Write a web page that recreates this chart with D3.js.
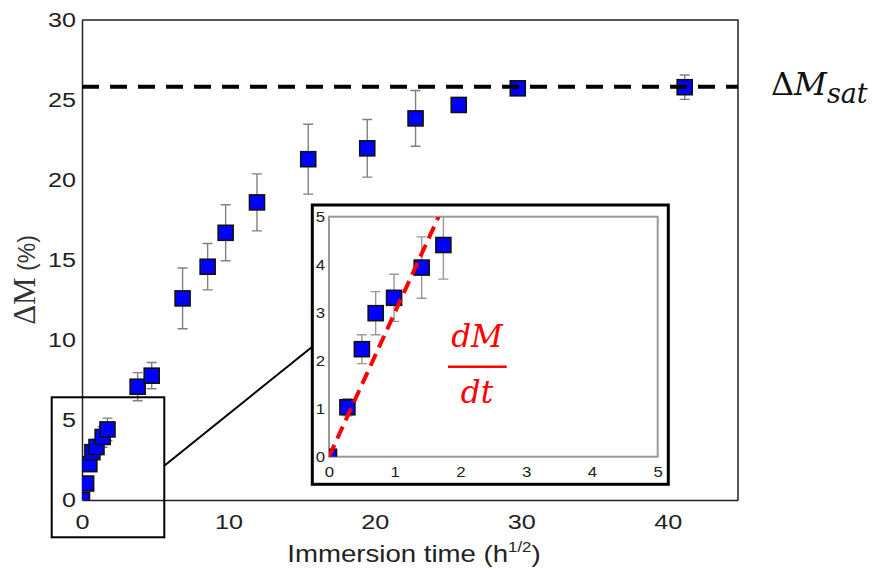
<!DOCTYPE html>
<html>
<head>
<meta charset="utf-8">
<script src="https://cdn.jsdelivr.net/npm/d3@7"></script>
<style>
  html, body { margin: 0; padding: 0; background: #fff; }
  svg { display: block; }
</style>
</head>
<body>
<svg id="chart" width="874" height="583"></svg>
<script>
// ---------------- data ----------------
const time   = [0, 0.28, 0.5, 0.71, 0.99, 1.41, 1.74, 3.8, 4.76, 6.87, 8.58, 9.81, 11.95, 15.45, 19.48, 22.78, 25.73, 29.76, 41.16];
const deltaM = [0, 1.03, 2.24, 2.99, 3.31, 3.94, 4.41, 7.08, 7.77, 12.6, 14.58, 16.7, 18.6, 21.3, 21.98, 23.85, 24.69, 25.73, 25.8];
const errM   = [0, 0.18, 0.3, 0.45, 0.49, 0.64, 0.71, 0.88, 0.82, 1.9, 1.45, 1.75, 1.78, 2.18, 1.8, 1.74, 0.3, 0.3, 0.76];
const yTicks = [0, 5, 10, 15, 20, 25, 30];
const xTicks = [0, 10, 20, 30, 40];
const insetTicks = [0, 1, 2, 3, 4, 5];
const satValue = 25.83;     // ΔM_sat
const dMdtSlope = 3.0;      // initial slope in inset
const insetCount = 7;       // points shown in the inset

const points = time.map((t, i) => ({ t, m: deltaM[i], e: errM[i] }));

// ---------------- layout ----------------
const svg = d3.select("#chart");
const M = { left: 82, right: 738, top: 20, bottom: 500 };
const x = d3.scaleLinear().domain([0, 44.8]).range([M.left, M.right]);
const y = d3.scaleLinear().domain([0, 30]).range([M.bottom, M.top]);

const I = { left: 329, right: 657.7, top: 216.7, bottom: 456.7 };
const xi = d3.scaleLinear().domain([0, 5]).range([I.left, I.right]);
const yi = d3.scaleLinear().domain([0, 5]).range([I.bottom, I.top]);

const SX = 1.2; // horizontal stretch of the original text
const sans = "'Liberation Sans', Arial, sans-serif";
const serif = "'DejaVu Serif', serif";
const fmt = d3.format("d");

const defs = svg.append("defs");
defs.append("clipPath").attr("id", "clipMain").append("rect")
  .attr("x", M.left).attr("y", M.top).attr("width", M.right - M.left).attr("height", M.bottom - M.top);
defs.append("clipPath").attr("id", "clipInset").append("rect")
  .attr("x", I.left).attr("y", I.top).attr("width", I.right - I.left).attr("height", I.bottom - I.top);

function stretchTicks(g) {
  g.selectAll(".tick text").each(function () {
    const t = d3.select(this);
    t.attr("x", (+t.attr("x") || 0) / SX).attr("transform", `scale(${SX},1)`);
  });
}

// ---------------- main axes ----------------
const gy = svg.append("g").attr("transform", `translate(${M.left},0)`)
  .call(d3.axisLeft(y).tickValues(yTicks).tickFormat(fmt).tickSize(0).tickPadding(6));
gy.select(".domain").attr("stroke", "#222").attr("stroke-width", 1.5);
gy.selectAll("text").attr("font-family", sans).attr("font-size", 21).attr("fill", "#222");
stretchTicks(gy);

const gx = svg.append("g").attr("transform", `translate(0,${M.bottom})`)
  .call(d3.axisBottom(x).tickValues(xTicks).tickFormat(fmt).tickSize(0).tickPadding(14));
gx.select(".domain").attr("stroke", "#222").attr("stroke-width", 1.5);
gx.selectAll("text").attr("font-family", sans).attr("font-size", 21).attr("fill", "#222");
stretchTicks(gx);

// top and right frame
svg.append("path")
  .attr("d", `M${M.left},${M.top}H${M.right}V${M.bottom}`)
  .attr("fill", "none").attr("stroke", "#222").attr("stroke-width", 1.5);

// axis titles
const yl = svg.append("text")
  .attr("transform", "translate(35,280) rotate(-90)")
  .attr("text-anchor", "middle").attr("fill", "#333");
yl.append("tspan").attr("font-family", "'Liberation Serif', 'Times New Roman', serif").attr("font-size", 31).text("ΔM");
yl.append("tspan").attr("font-family", sans).attr("font-size", 23).text(" (%)");

const xl = svg.append("g").attr("transform", `translate(414,562) scale(${SX},1)`)
  .append("text").attr("text-anchor", "middle").attr("font-family", sans)
  .attr("font-size", 23).attr("fill", "#222");
xl.append("tspan").text("Immersion time (h");
xl.append("tspan").attr("font-size", 14).attr("dy", -10).text("1/2");
xl.append("tspan").attr("dy", 10).text(")");

// ---------------- main data ----------------
function drawSeries(g, pts, sx, sy, errColor) {
  const eb = g.append("g").attr("stroke", errColor).attr("stroke-width", 1.4).attr("fill", "none");
  pts.filter(d => d.e > 0).forEach(d => {
    const cx = sx(d.t), y1 = sy(d.m + d.e), y2 = sy(d.m - d.e);
    eb.append("path").attr("d", `M${cx},${y1}V${y2}M${cx - 5},${y1}H${cx + 5}M${cx - 5},${y2}H${cx + 5}`);
  });
  const s = 15;
  g.append("g").selectAll("rect").data(pts).join("rect")
    .attr("x", d => sx(d.t) - s / 2).attr("y", d => sy(d.m) - s / 2)
    .attr("width", s).attr("height", s)
    .attr("fill", "#0000ff").attr("stroke", "#111").attr("stroke-width", 1.6);
}

const gMain = svg.append("g").attr("clip-path", "url(#clipMain)");
drawSeries(gMain, points, x, y, "#808080");

// saturation line
svg.append("line")
  .attr("x1", x(0)).attr("x2", x(44.8)).attr("y1", y(satValue)).attr("y2", y(satValue))
  .attr("stroke", "#000").attr("stroke-width", 4).attr("stroke-dasharray", "17 11");

const sat = svg.append("text").attr("x", 771).attr("y", 95)
  .attr("font-family", serif).attr("fill", "#111");
sat.append("tspan").attr("font-size", 32).text("Δ");
sat.append("tspan").attr("font-size", 32).attr("font-style", "italic").text("M");
sat.append("tspan").attr("font-size", 27).attr("font-style", "italic").attr("dy", 8).text("sat");

// zoom box on main chart
const zb = { x0: -2.07, x1: 5.62, y0: -2.33, y1: 6.42 };
svg.append("rect")
  .attr("x", x(zb.x0)).attr("y", y(zb.y1))
  .attr("width", x(zb.x1) - x(zb.x0)).attr("height", y(zb.y0) - y(zb.y1))
  .attr("fill", "none").attr("stroke", "#000").attr("stroke-width", 2);

// ---------------- inset ----------------
const O = { left: 312.3, right: 668.3, top: 205, bottom: 484.3 };
svg.append("line")
  .attr("x1", x(zb.x1)).attr("y1", 465.7).attr("x2", O.left).attr("y2", 346.7)
  .attr("stroke", "#000").attr("stroke-width", 2);

svg.append("rect")
  .attr("x", O.left).attr("y", O.top).attr("width", O.right - O.left).attr("height", O.bottom - O.top)
  .attr("fill", "#fff").attr("stroke", "#000").attr("stroke-width", 3);
svg.append("rect")
  .attr("x", I.left).attr("y", I.top).attr("width", I.right - I.left).attr("height", I.bottom - I.top)
  .attr("fill", "#fff").attr("stroke", "#999").attr("stroke-width", 2);

const giy = svg.append("g").attr("transform", `translate(${I.left},0)`)
  .call(d3.axisLeft(yi).tickValues(insetTicks).tickFormat(fmt).tickSize(0).tickPadding(4));
giy.select(".domain").remove();
giy.selectAll("text").attr("font-family", sans).attr("font-size", 14).attr("fill", "#222");
stretchTicks(giy);

const gix = svg.append("g").attr("transform", `translate(0,${I.bottom})`)
  .call(d3.axisBottom(xi).tickValues(insetTicks).tickFormat(fmt).tickSize(0).tickPadding(10));
gix.select(".domain").remove();
gix.selectAll("text").attr("font-family", sans).attr("font-size", 14).attr("fill", "#222");
stretchTicks(gix);

const gIn = svg.append("g").attr("clip-path", "url(#clipInset)");
drawSeries(gIn, points.slice(0, insetCount), xi, yi, "#999");

// tangent dM/dt
gIn.append("line")
  .attr("x1", xi(0)).attr("y1", yi(0)).attr("x2", xi(5 / dMdtSlope)).attr("y2", yi(5))
  .attr("stroke", "#ff0000").attr("stroke-width", 4).attr("stroke-dasharray", "13 7");

const fx = 477;
svg.append("text").attr("x", fx).attr("y", 346.7).attr("text-anchor", "middle")
  .attr("font-family", serif).attr("font-style", "italic").attr("font-size", 31).attr("fill", "#ff0000").text("dM");
svg.append("line").attr("x1", 448).attr("x2", 506.7).attr("y1", 366.7).attr("y2", 366.7)
  .attr("stroke", "#ff0000").attr("stroke-width", 2.5);
svg.append("text").attr("x", fx).attr("y", 403.3).attr("text-anchor", "middle")
  .attr("font-family", serif).attr("font-style", "italic").attr("font-size", 31).attr("fill", "#ff0000").text("dt");
</script>
</body>
</html>
